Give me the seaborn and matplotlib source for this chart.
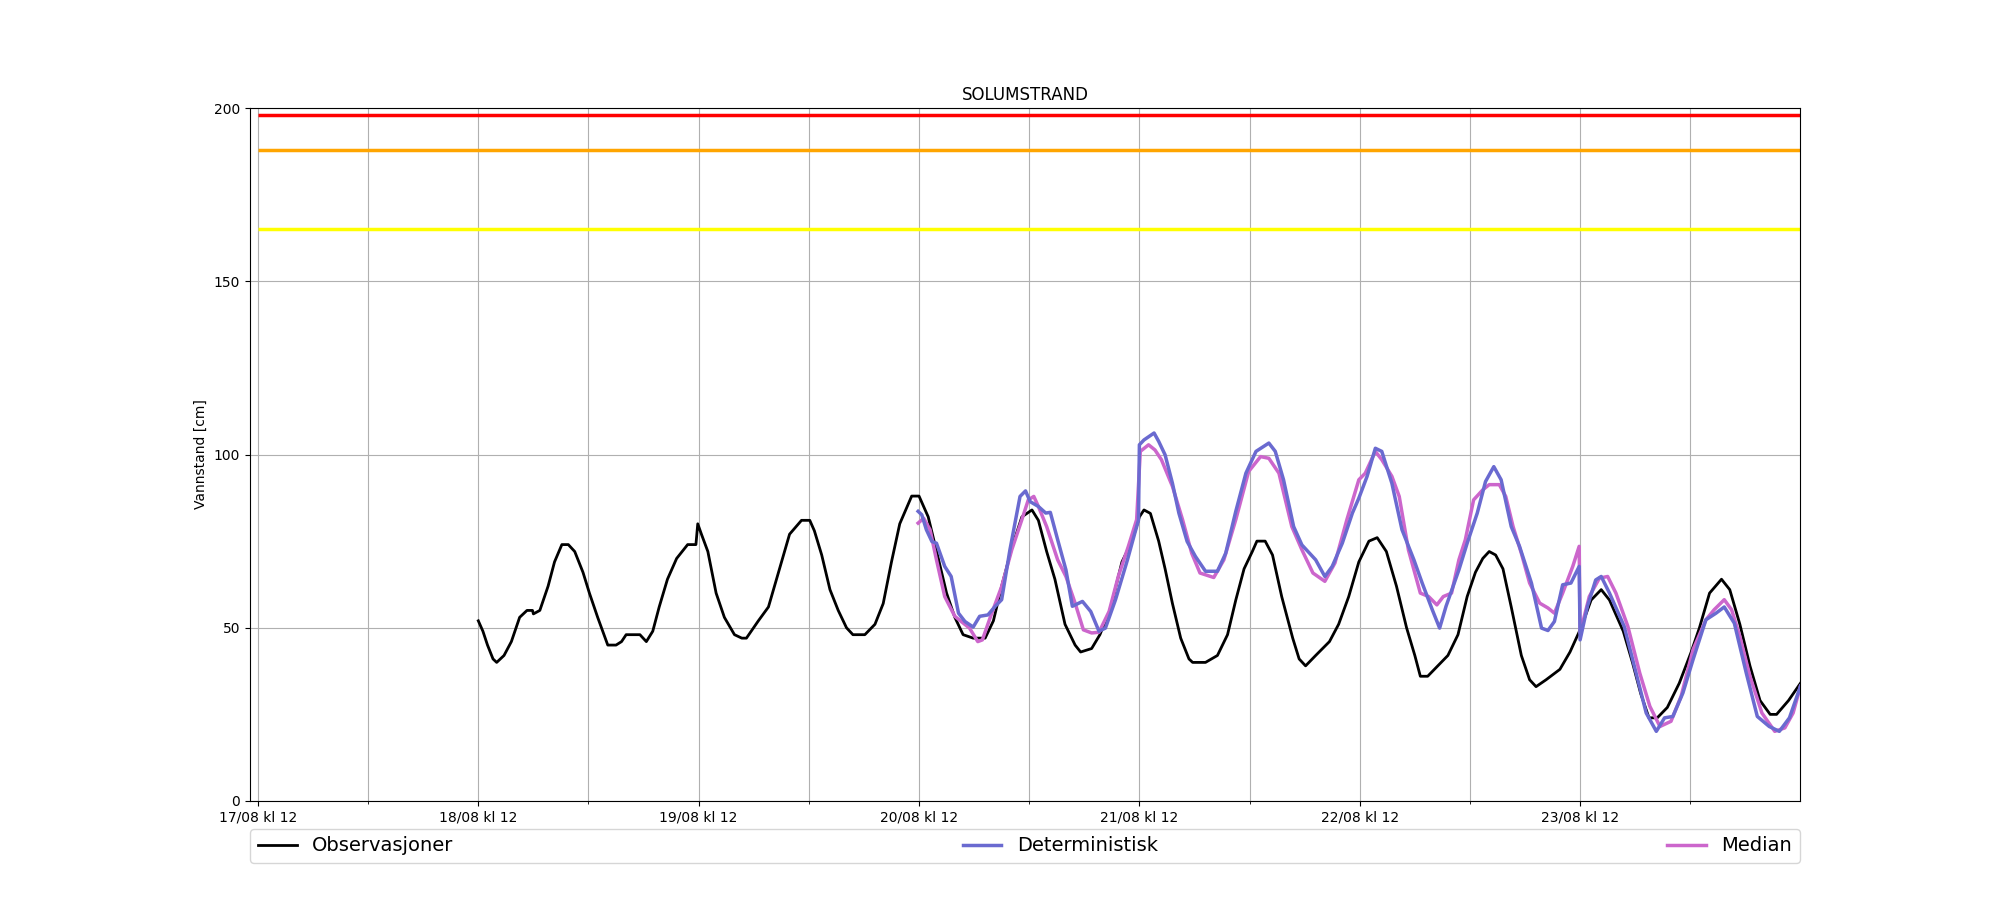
import pandas as pd
import numpy as np
import matplotlib
matplotlib.use('Agg')
import matplotlib.pyplot as plt
import matplotlib.dates as mdates
import seaborn as sns

# hours after 18/08 kl 12
obs_hours = [0, 0.5, 1.0, 1.6, 2.0, 2.8, 3.6, 4.5, 5.3, 5.9, 6.0, 6.7, 7.6, 8.3, 9.1, 9.8,
             10.5, 11.4, 12.1, 13.0, 14.1, 15.0, 15.6, 16.1, 17.6, 18.3, 19.0, 19.7, 20.6,
             21.6, 22.8, 23.7, 23.9, 24.3, 25.0, 25.9, 26.8, 27.9, 28.7, 29.2, 30.5, 31.6,
             32.7, 33.9, 35.2, 36.1, 36.6, 37.4, 38.3, 39.2, 40.1, 40.8, 42.1, 43.2, 44.1,
             45.0, 45.9, 47.2, 48.0, 49.0, 50.1, 51.0, 51.9, 52.8, 53.9, 55.2, 56.1, 57.0,
             58.1, 59.2, 60.3, 61.0, 61.9, 62.8, 63.9, 65.0, 65.6, 66.8, 67.7, 68.8, 70.1,
             71.2, 72.0, 72.5, 73.2, 74.1, 74.8, 75.6, 76.5, 77.4, 77.8, 79.2, 80.5, 81.6,
             82.5, 83.4, 84.3, 84.8, 85.7, 86.5, 87.5, 88.7, 89.4, 90.1, 91.2, 92.7, 93.7,
             94.8, 95.9, 97.0, 97.9, 98.9, 100.0, 101.1, 102.0, 102.6, 103.4, 104.5, 105.6,
             106.7, 107.7, 108.6, 109.4, 110.1, 110.8, 111.6, 112.5, 113.6, 114.5, 115.2,
             116.3, 117.8, 118.9, 120.1, 121.2, 122.3, 123.2, 124.7, 125.7, 126.6, 127.5,
             128.4, 129.5, 130.8, 132.1, 133.0, 134.1, 135.4, 136.3, 137.4, 138.5, 139.6,
             140.7, 141.4, 142.7, 144.0]
obs_values = [52, 49, 45, 41, 40, 42, 46, 53, 55, 55, 54, 55, 62, 69, 74, 74,
              72, 66, 60, 53, 45, 45, 46, 48, 48, 46, 49, 56, 64,
              70, 74, 74, 80, 77, 72, 60, 53, 48, 47, 47, 52, 56,
              66, 77, 81, 81, 78, 71, 61, 55, 50, 48, 48, 51, 57,
              69, 80, 88, 88, 82, 70, 60, 53, 48, 47, 47, 52, 62,
              73, 82, 84, 81, 72, 64, 51, 45, 43, 44, 48, 55, 69,
              75, 82, 84, 83, 75, 67, 57, 47, 41, 40, 40, 42, 48,
              58, 67, 72, 75, 75, 71, 59, 47, 41, 39, 42, 46, 51,
              59, 69, 75, 76, 72, 62, 50, 42, 36, 36, 39, 42,
              48, 59, 66, 70, 72, 71, 67, 56, 42, 35, 33,
              35, 38, 43, 50, 58, 61, 58, 49, 40, 31, 24,
              24, 27, 34, 43, 50, 60, 64, 61, 51, 39, 29,
              25, 25, 29, 34]

det_hours = [47.9, 48.3, 48.8, 49.4, 49.9, 50.8, 51.5, 52.3, 53.0, 53.9, 54.6, 55.5, 56.3,
             57.0, 57.9, 59.0, 59.6, 60.1, 61.0, 61.8, 62.3, 63.1, 64.0, 64.7, 65.8, 66.7,
             67.6, 68.3, 69.4, 70.7, 71.5, 71.9, 72.0, 72.5, 73.6, 74.1, 74.8, 75.6, 76.3,
             77.2, 78.1, 79.2, 80.5, 81.4, 82.5, 83.6, 84.7, 86.1, 86.8, 87.7, 88.8, 89.7,
             91.2, 92.2, 93.0, 94.1, 95.2, 95.9, 96.8, 97.7, 98.4, 99.5, 100.6, 101.9, 102.8,
             103.9, 104.7, 105.4, 106.8, 107.7, 108.8, 109.7, 110.6, 111.4, 112.5, 113.4,
             114.7, 115.8, 116.5, 117.2, 118.1, 119.0, 119.9, 120.0, 120.8, 121.7, 122.3,
             123.2, 124.8, 126.1, 127.2, 128.3, 129.2, 130.1, 131.2, 132.3, 133.7, 134.8,
             135.7, 136.8, 138.1, 139.3, 140.6, 141.7, 142.8, 144.0]
det_values = [83.6, 82.6, 78.3, 74.9, 74.4, 67.7, 64.8, 54.2, 51.8, 50.2, 53.3, 53.7, 56.2,
              58.1, 72.5, 87.9, 89.5, 86.4, 85.0, 83.1, 83.3, 75.4, 66.7, 56.2, 57.6, 54.7,
              49.0, 49.9, 58.1, 69.6, 77.3, 81.0, 102.8, 104.2, 106.2, 103.8, 99.9, 91.7, 83.1,
              74.9, 70.6, 66.3, 66.3, 71.5, 83.6, 94.6, 100.9, 103.3, 100.9, 92.7, 79.2, 73.9,
              69.6, 64.8, 67.7, 74.4, 83.1, 87.4, 93.7, 101.8, 100.9, 91.7, 78.3, 69.6, 62.9,
              55.2, 49.9, 56.2, 66.7, 74.4, 83.1, 92.2, 96.5, 92.7, 79.2, 73.5,
              62.9, 49.9, 49.2, 51.8, 62.4, 62.9, 67.7, 46.5, 56.2, 63.8, 64.8,
              60.0, 50.4, 36.9, 25.4, 20.1, 24.0, 24.4, 31.2, 40.8, 52.3, 54.2,
              56.0, 51.3, 36.9, 24.4, 21.5, 20.1, 24.0, 33.1]

med_hours = [47.9, 48.5, 49.2, 49.9, 50.8, 51.9, 52.6, 53.5, 54.4, 54.9, 55.8, 57.0, 58.1,
             59.2, 59.9, 60.5, 61.0, 61.9, 63.1, 64.0, 65.0, 65.9, 66.8, 67.6, 68.7, 69.7,
             70.8, 71.7, 72.1, 73.0, 73.7, 74.4, 75.6, 76.7, 77.7, 78.6, 80.1, 81.2, 82.5,
             83.9, 85.2, 86.1, 87.2, 88.6, 89.7, 90.9, 92.2, 93.3, 94.6, 95.9, 96.6, 97.7,
             98.4, 99.5, 100.3, 101.3, 102.6, 103.5, 104.4, 105.1, 106.0, 106.8, 107.5,
             108.4, 109.4, 110.1, 111.2, 111.9, 112.7, 113.6, 114.5, 115.6, 116.5, 117.2,
             118.1, 119.2, 119.9, 120.0, 121.0, 122.1, 123.0, 123.9, 125.2, 126.5, 127.6,
             128.7, 129.9, 131.0, 132.3, 133.7, 134.6, 135.7, 136.5, 137.4, 138.5, 139.8,
             141.2, 142.3, 143.2, 144.0]
med_values = [80.2, 81.6, 78.3, 69.6, 59.0, 53.3, 51.8, 49.9, 46.0, 46.5, 53.3, 61.9, 72.5,
              81.2, 86.9, 87.9, 85.0, 79.2, 69.6, 64.8, 57.1, 49.4, 48.5, 48.7, 54.7, 64.8,
              73.5, 81.2, 100.9, 102.8, 101.3, 98.5, 90.8, 81.2, 71.5, 65.8, 64.5, 69.6, 81.2,
              95.1, 99.4, 98.9, 94.6, 79.2, 72.5, 65.8, 63.4, 68.7, 81.2, 92.7, 94.6, 100.9,
              98.5, 93.7, 87.9, 72.5, 60.0, 59.0, 56.6, 59.0, 60.0, 69.6, 75.4,
              86.9, 89.8, 91.3, 91.3, 87.9, 79.2, 71.5, 62.9, 57.1, 55.7, 54.2,
              60.0, 67.7, 73.5, 48.5, 59.0, 64.3, 64.8, 60.0, 50.4, 36.9, 27.3,
              21.5, 23.0, 30.2, 43.7, 52.3, 55.2, 58.1, 55.2, 47.5, 36.0, 25.4,
              20.1, 21.1, 25.4, 33.1]

# warning levels (cm)
level_values = [198, 188, 165]
level_colors = ['red', 'orange', 'yellow']

base = pd.Timestamp('2023-08-18 12:00')


def to_df(hours, values):
    return pd.DataFrame({'tid': base + pd.to_timedelta(hours, unit='h'), 'cm': values})


obs = to_df(obs_hours, obs_values)
det = to_df(det_hours, det_values)
med = to_df(med_hours, med_values)

fig, ax = plt.subplots(figsize=(20, 9), dpi=100)

line_start = base - pd.Timedelta(hours=24)
line_end = base + pd.Timedelta(hours=144)
for lvl, col in zip(level_values, level_colors):
    ax.hlines(lvl, line_start, line_end, color=col, lw=2.5, zorder=2)

sns.lineplot(data=obs, x='tid', y='cm', ax=ax, color='black', lw=2, label='Observasjoner', zorder=3)
sns.lineplot(data=det, x='tid', y='cm', ax=ax, color='#6a6ad0', lw=2.5, label='Deterministisk', zorder=4)
sns.lineplot(data=med, x='tid', y='cm', ax=ax, color='#cc66cc', lw=2.5, label='Median', zorder=3.5)

ax.set_ylim(0, 200)
ax.set_yticks([0, 50, 100, 150, 200])
ax.set_xlim(pd.Timestamp('2023-08-17 11:08'), pd.Timestamp('2023-08-24 11:57'))
ax.xaxis.set_major_locator(mdates.HourLocator(byhour=[12]))
ax.xaxis.set_minor_locator(mdates.HourLocator(byhour=[0]))
ax.xaxis.set_major_formatter(mdates.DateFormatter('%d/%m kl %H'))
ax.grid(True, which='major', color='#b0b0b0')
ax.grid(True, which='minor', axis='x', color='#b0b0b0')
ax.set_axisbelow(True)

ax.set_xlabel('')
ax.set_ylabel('Vannstand [cm]')
ax.set_title('SOLUMSTRAND')

# legend strip below the axes, stretched to full width
ax.legend(loc='upper left', bbox_to_anchor=(0, -0.04, 1, 0), mode='expand',
          ncol=3, fontsize=14, borderaxespad=0)

plt.savefig('out.png')
